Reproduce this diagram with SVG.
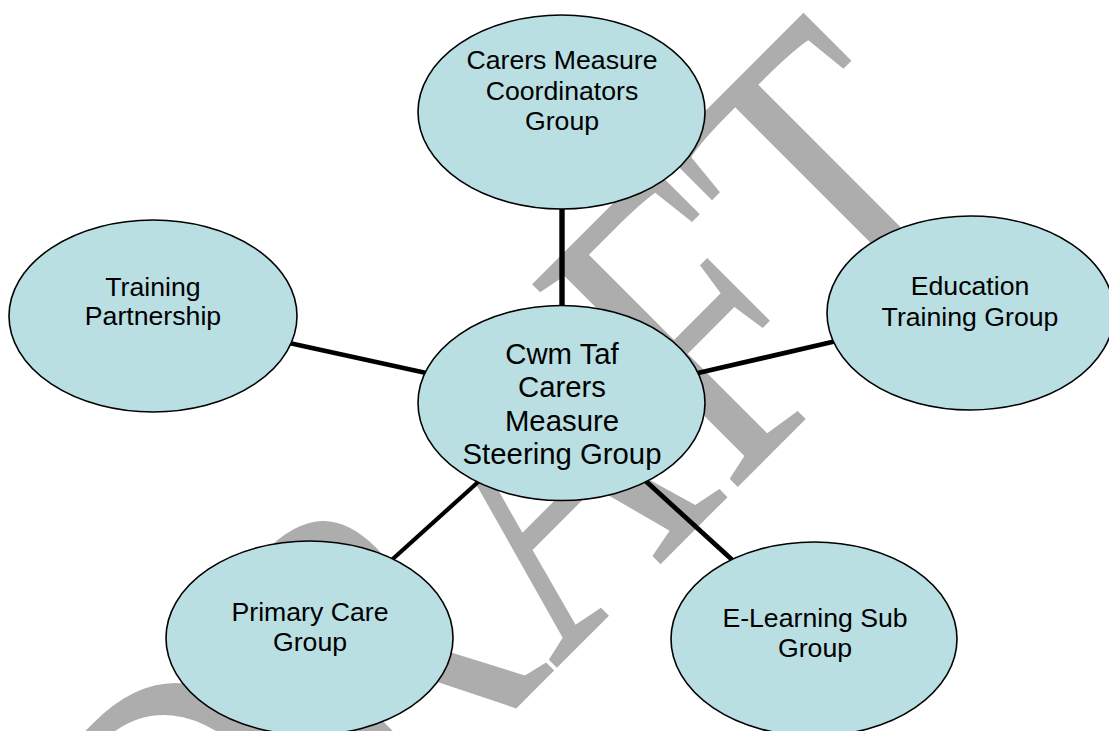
<svg xmlns="http://www.w3.org/2000/svg" width="1109" height="731" viewBox="0 0 1109 731">
<style>
.node ellipse { fill: #b9dfe3; stroke: #000; stroke-width: 1.6; }
.node text { font-family: "Liberation Sans", Arial, sans-serif; font-size: 26.67px; fill: #000; text-anchor: middle; }
#n-center text { font-size: 29.33px; }
.conn line { stroke: #000; stroke-width: 4.8; stroke-linecap: butt; }
.wm { font-family: "Liberation Serif", "Times New Roman", serif; font-size: 441px; fill: #adadad; }
</style>
<rect x="0" y="0" width="1109" height="731" fill="#ffffff"/>
<g id="watermark" transform="rotate(-45) scale(0.776,1)">
  <text class="wm" x="-718" y="866">DRAFT</text>
</g>
<g id="connectors" class="conn">
  <line x1="562" y1="200" x2="562" y2="315" style="stroke-width:5.4"/>
  <line x1="280" y1="341" x2="440" y2="376"/>
  <line x1="685" y1="376" x2="845" y2="339"/>
  <line x1="487" y1="474" x2="385" y2="566" style="stroke-width:4.2"/>
  <line x1="638" y1="474" x2="740" y2="567"/>
</g>
<g id="n-coordinators" class="node">
  <ellipse cx="561.5" cy="112" rx="143.5" ry="97"/>
  <text x="562" y="69">Carers Measure</text>
  <text x="562" y="99.5">Coordinators</text>
  <text x="562" y="130">Group</text>
</g>
<g id="n-training" class="node">
  <ellipse cx="153" cy="316" rx="144" ry="96"/>
  <text x="153" y="295.5">Training</text>
  <text x="153" y="325">Partnership</text>
</g>
<g id="n-education" class="node">
  <ellipse cx="970.5" cy="313" rx="143.5" ry="97"/>
  <text x="970" y="295">Education</text>
  <text x="970" y="325.5">Training Group</text>
</g>
<g id="n-center" class="node">
  <ellipse cx="561.5" cy="403" rx="143.5" ry="97.5"/>
  <text x="562" y="363.5">Cwm Taf</text>
  <text x="562" y="397">Carers</text>
  <text x="562" y="430.5">Measure</text>
  <text x="562" y="464">Steering Group</text>
</g>
<g id="n-primary" class="node">
  <ellipse cx="309.5" cy="638" rx="143.5" ry="97"/>
  <text x="310" y="621">Primary Care</text>
  <text x="310" y="651">Group</text>
</g>
<g id="n-elearning" class="node">
  <ellipse cx="814" cy="639" rx="143" ry="97"/>
  <text x="815" y="627">E-Learning Sub</text>
  <text x="815" y="657">Group</text>
</g>
</svg>
